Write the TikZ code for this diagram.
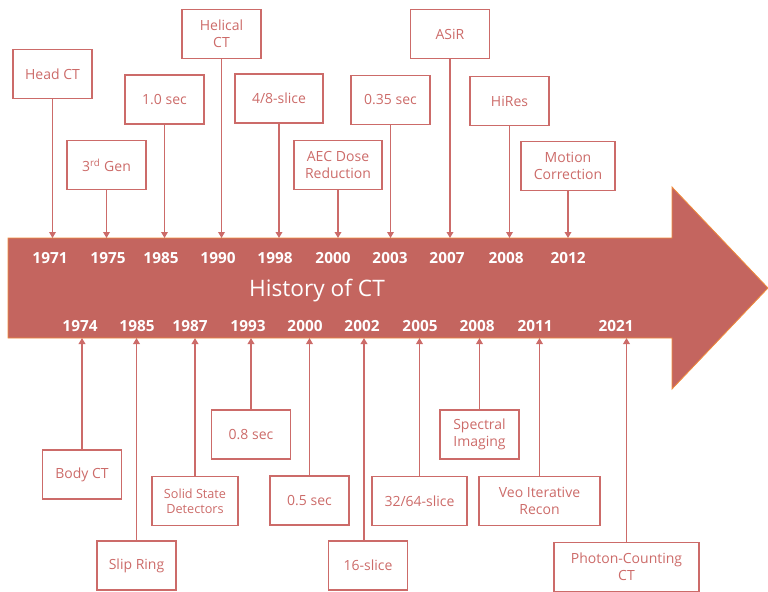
\documentclass[tikz,border=0pt]{standalone}
\usepackage{fontspec}
\setmainfont{Open Sans}
\usetikzlibrary{arrows.meta}
\definecolor{ctred}{HTML}{C4655F}
\definecolor{ctline}{HTML}{CC6B69}
\definecolor{ctedge}{HTML}{F08C3C}
\tikzset{
  event/.style={draw=ctline, line width=1.1pt, text=ctline, align=center,
    minimum width=59.25pt, minimum height=36.75pt, inner sep=2pt,
    font=\fontsize{10.5}{12.5}\selectfont},
  year/.style={text=white, font=\fontsize{11.5}{13}\selectfont\bfseries},
  link/.style={draw=ctline, line width=1pt, -{Triangle[length=4.5pt,width=5pt]}},
}
\begin{document}
\begin{tikzpicture}[x=0.75pt,y=-0.75pt]
\useasboundingbox (0,0) rectangle (768,592);
% big arrow
\fill[ctred, draw=ctedge, line width=0.6pt] (8,238) -- (672,238) -- (672,187) -- (768,288)
  -- (672,389) -- (672,338) -- (8,338) -- cycle;
\coordinate (top) at (0,238);
\coordinate (bot) at (0,338);
\node[text=white, font=\fontsize{17}{20}\selectfont] (title) at (317,291) {History of CT};

% events above the arrow
\node[event] (head) at (52.5,74) {Head CT};
\node[event] (gen3) at (106.5,165) {3\textsuperscript{rd} Gen};
\node[event] (sec10) at (164.5,99.5) {1.0 sec};
\node[event] (helical) at (221.5,34) {Helical\\CT};
\node[event, minimum width=66pt] (slice48) at (279,98.5) {4/8-slice};
\node[event, minimum width=66pt] (aec) at (338,165) {AEC Dose\\Reduction};
\node[event] (sec035) at (390.5,100) {0.35 sec};
\node[event] (asir) at (450,34) {ASiR};
\node[event] (hires) at (509.5,101) {HiRes};
\node[event, minimum width=70.5pt] (motion) at (568,166) {Motion\\Correction};

\node[year] (y1971) at (50,258) {1971};
\node[year] (y1975) at (108,258) {1975};
\node[year] (y1985a) at (161,258) {1985};
\node[year] (y1990) at (218,258) {1990};
\node[year] (y1998) at (275,258) {1998};
\node[year] (y2000a) at (333,258) {2000};
\node[year] (y2003) at (390,258) {2003};
\node[year] (y2007) at (447,258) {2007};
\node[year] (y2008a) at (506,258) {2008};
\node[year] (y2012) at (568,258) {2012};

\draw[link] (head.south) -- (head.south |- top);
\draw[link] (gen3.south) -- (gen3.south |- top);
\draw[link] (sec10.south) -- (sec10.south |- top);
\draw[link] (helical.south) -- (helical.south |- top);
\draw[link] (slice48.south) -- (slice48.south |- top);
\draw[link] (aec.south) -- (aec.south |- top);
\draw[link] (sec035.south) -- (sec035.south |- top);
\draw[link] (asir.south) -- (asir.south |- top);
\draw[link] (hires.south) -- (hires.south |- top);
\draw[link] (motion.south) -- (motion.south |- top);

% events below the arrow
\node[year] (y1974) at (80,326) {1974};
\node[year] (y1985b) at (137,326) {1985};
\node[year] (y1987) at (190,326) {1987};
\node[year] (y1993) at (248,326) {1993};
\node[year] (y2000b) at (305,326) {2000};
\node[year] (y2002) at (362,326) {2002};
\node[year] (y2005) at (420,326) {2005};
\node[year] (y2008b) at (477,326) {2008};
\node[year] (y2011) at (535,326) {2011};
\node[year] (y2021) at (616,326) {2021};

\node[event] (body) at (82,474.5) {Body CT};
\node[event] (slip) at (136.5,565.5) {Slip Ring};
\node[event, minimum width=64.5pt, font=\fontsize{9.5}{11.5}\selectfont] (solid) at (195,501) {Solid State\\Detectors};
\node[event] (sec08) at (251,434.5) {0.8 sec};
\node[event] (sec05) at (309.5,500.5) {0.5 sec};
\node[event] (slice16) at (368,565.5) {16-slice};
\node[event, minimum width=71.25pt] (slice3264) at (419.5,501) {32/64-slice};
\node[event] (spectral) at (479.5,434.5) {Spectral\\Imaging};
\node[event, minimum width=90.75pt] (veo) at (539.5,501) {Veo Iterative\\Recon};
\node[event, minimum width=108.75pt] (photon) at (626.5,567) {Photon-Counting\\CT};

\draw[link] (body.north) -- (body.north |- bot);
\draw[link] (slip.north) -- (slip.north |- bot);
\draw[link] (solid.north) -- (solid.north |- bot);
\draw[link] (sec08.north) -- (sec08.north |- bot);
\draw[link] (sec05.north) -- (sec05.north |- bot);
\draw[link] ([xshift=-3pt]slice16.north) -- ([xshift=-3pt]slice16.north |- bot);
\draw[link] (slice3264.north) -- (slice3264.north |- bot);
\draw[link] (spectral.north) -- (spectral.north |- bot);
\draw[link] (veo.north) -- (veo.north |- bot);
\draw[link] (photon.north) -- (photon.north |- bot);
\end{tikzpicture}
\end{document}
